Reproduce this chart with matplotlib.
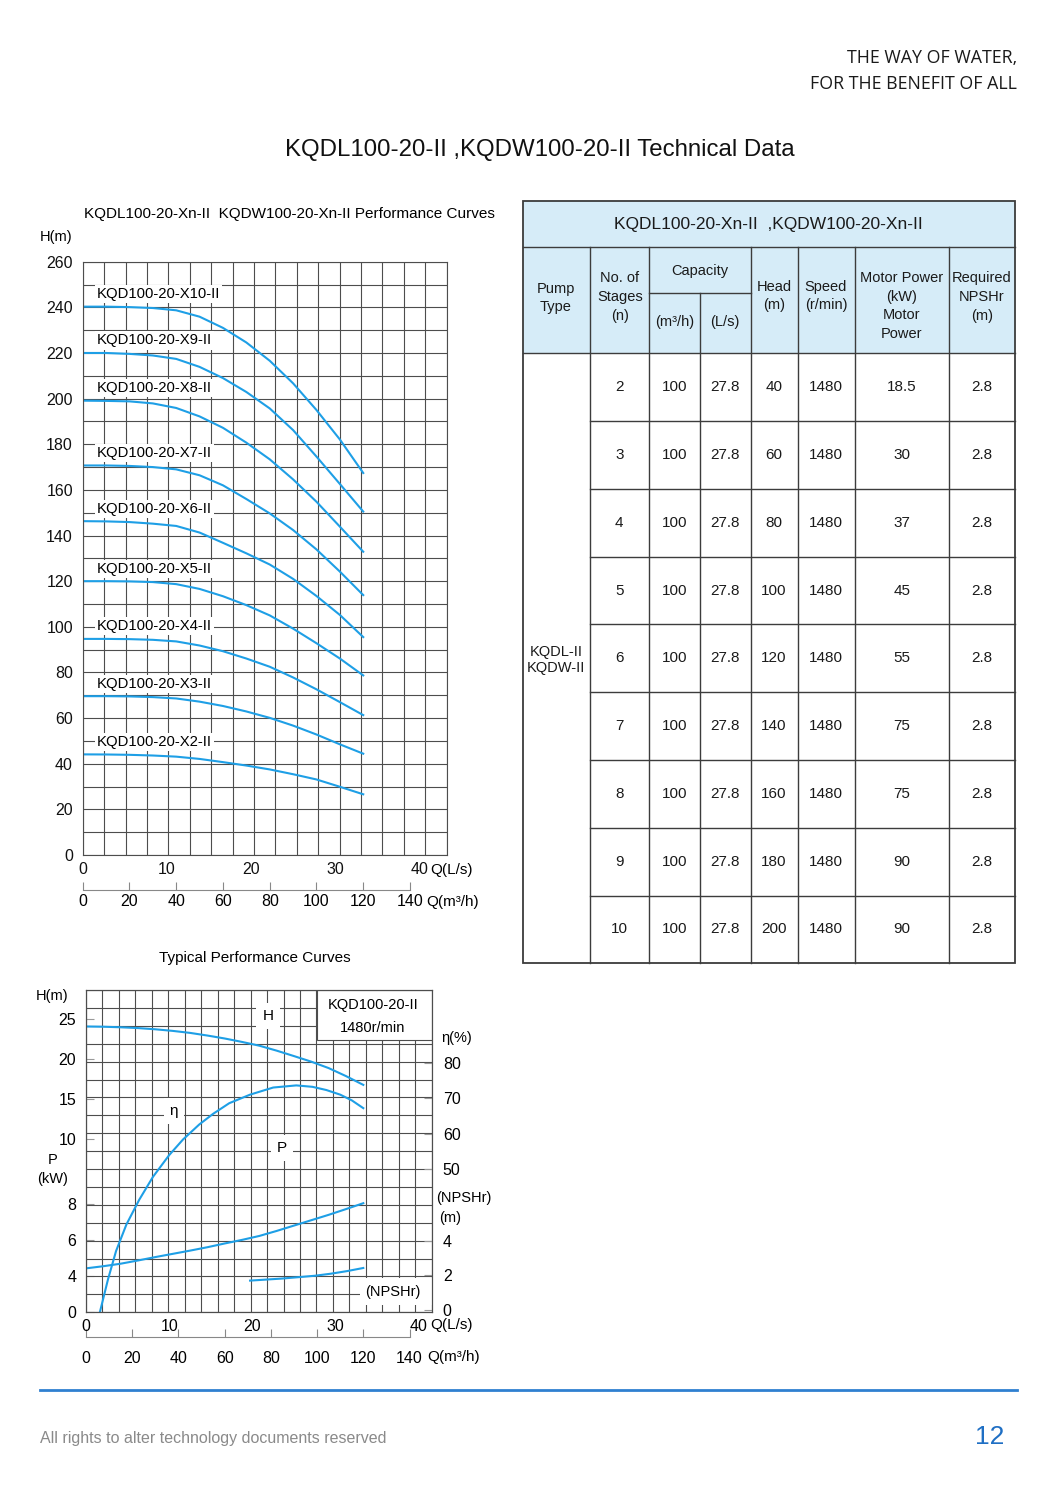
import numpy as np
import matplotlib
matplotlib.use('Agg')
import matplotlib.pyplot as plt
from matplotlib.patches import Rectangle

plt.rcParams['font.family'] = ['Liberation Sans', 'DejaVu Sans']
NARROW = ['Liberation Sans Narrow', 'Liberation Sans', 'DejaVu Sans']

# - - - - chart data (Q in m3/h) - - - - #
q_stage = [0, 10, 20, 30, 40, 50, 60, 70, 80, 90, 100, 110, 120]
h_x10 = [240.3, 240.3, 240.1, 239.7, 238.7, 235.9, 231.0, 224.6, 216.6, 206.7, 195.0, 182.1, 167.4]
h_x9 = [220.0, 220.0, 219.6, 218.9, 217.4, 213.9, 209.0, 202.9, 195.7, 186.2, 174.6, 162.6, 150.5]
h_x8 = [199.1, 199.0, 198.8, 197.9, 195.9, 192.2, 187.2, 180.7, 173.4, 164.6, 154.8, 143.9, 132.9]
h_x7 = [170.7, 170.7, 170.5, 170.0, 169.0, 166.4, 162.0, 156.0, 149.7, 142.4, 133.9, 124.2, 113.9]
h_x6 = [146.3, 146.2, 145.9, 145.2, 144.2, 141.3, 136.8, 132.2, 127.3, 121.0, 113.5, 105.2, 95.5]
h_x5 = [120.0, 120.0, 119.9, 119.6, 118.7, 116.6, 113.4, 109.5, 105.0, 99.2, 92.8, 86.1, 78.7]
h_x4 = [94.7, 94.7, 94.6, 94.3, 93.6, 91.8, 89.3, 86.1, 82.5, 77.8, 72.6, 67.0, 61.3]
h_x3 = [69.6, 69.6, 69.5, 69.2, 68.6, 67.2, 65.3, 62.9, 60.1, 56.7, 52.8, 48.5, 44.4]
h_x2 = [44.1, 44.05, 43.9, 43.6, 43.1, 42.1, 40.7, 39.2, 37.5, 35.4, 33.1, 29.9, 26.6]
stage_names = ['KQD100-20-X10-II', 'KQD100-20-X9-II', 'KQD100-20-X8-II',
               'KQD100-20-X7-II', 'KQD100-20-X6-II', 'KQD100-20-X5-II',
               'KQD100-20-X4-II', 'KQD100-20-X3-II', 'KQD100-20-X2-II']
stage_heads = [h_x10, h_x9, h_x8, h_x7, h_x6, h_x5, h_x4, h_x3, h_x2]

ls_ticks = [0, 10, 20, 30, 40]
m3h_ticks = [0, 20, 40, 60, 80, 100, 120, 140]
h_ticks = [0, 20, 40, 60, 80, 100, 120, 140, 160, 180, 200, 220, 240, 260]

# typical single-stage curves
q_typ = [0, 7.5, 15, 22.5, 30, 37.5, 45, 52.5, 60, 67.5, 75, 82.5, 90, 97.5, 105, 112.5, 120]
head_typ = [24.1, 24.07, 24.0, 23.9, 23.75, 23.55, 23.3, 22.97, 22.6, 22.17, 21.7,
            21.08, 20.4, 19.7, 18.9, 17.9, 16.8]
power_typ = [4.41, 4.53, 4.67, 4.85, 5.04, 5.22, 5.4, 5.59, 5.8, 6.0, 6.22, 6.5,
             6.8, 7.1, 7.4, 7.72, 8.05]
q_eff = [6, 9.5, 13, 17.5, 23, 29, 36, 42, 49, 55, 62, 71, 81, 91, 98, 104, 110, 115, 120]
eff_typ = [9.8, 19.0, 27.0, 34.5, 41.4, 47.9, 54.0, 58.4, 62.6, 65.6, 68.6, 71.0,
           73.0, 73.6, 73.2, 72.3, 71.0, 69.4, 67.2]
q_npsh = [71, 78, 85, 92, 99, 106, 113, 120]
npsh_typ = [1.7, 1.76, 1.82, 1.9, 1.98, 2.1, 2.25, 2.43]

h_typ_ticks = [25, 20, 15, 10]
p_ticks = [8, 6, 4]
eff_ticks = [80, 70, 60, 50]
npsh_ticks = [4, 2, 0]

# - - - - table data - - - - #
stages = [2, 3, 4, 5, 6, 7, 8, 9, 10]
cap_m3h = [100, 100, 100, 100, 100, 100, 100, 100, 100]
cap_ls = [27.8, 27.8, 27.8, 27.8, 27.8, 27.8, 27.8, 27.8, 27.8]
heads = [40, 60, 80, 100, 120, 140, 160, 180, 200]
speeds = [1480, 1480, 1480, 1480, 1480, 1480, 1480, 1480, 1480]
motor_kw = ['18.5', '30', '37', '45', '55', '75', '75', '90', '90']
npshr = [2.8, 2.8, 2.8, 2.8, 2.8, 2.8, 2.8, 2.8, 2.8]

W, H = 1053, 1493
BLUE = '#1e9fe6'
GRID = '#4d4d4d'
TICK_FS = 11.5
fig = plt.figure(figsize=(W / 100, H / 100), dpi=100)


def fx(px):
    return px / W


def fy(py):
    return 1 - py / H


def page_text(x, y, s, **kw):
    kw.setdefault('va', 'center')
    return fig.text(fx(x), fy(y), s, **kw)


# - - - - page header - - - - #
page_text(1017, 58, 'THE WAY OF WATER,', ha='right', fontsize=12.8,
          family=['Open Sans', 'DejaVu Sans'], color='#1a1a1a')
page_text(1017, 84, 'FOR THE BENEFIT OF ALL', ha='right', fontsize=12.8,
          family=['Open Sans', 'DejaVu Sans'], color='#1a1a1a')
page_text(540, 150, 'KQDL100-20-II ,KQDW100-20-II Technical Data', ha='center',
          fontsize=17.3, color='#111')

# - - - - multi-stage performance curves - - - - #
x_max = 155.7
ax = fig.add_axes([fx(82.7), fy(855), 364 / W, 593.3 / H])
ax.set_xlim(0, x_max)
ax.set_ylim(0, 260)
ax.xaxis.remove_overlapping_locs = False
ax.yaxis.remove_overlapping_locs = False
ax.set_xticks(np.linspace(0, x_max, 18), minor=True)
ax.set_yticks(np.arange(0, 261, 10), minor=True)
ax.grid(which='minor', color=GRID, lw=0.8)
ax.set_yticks(h_ticks)
ax.set_xticks([v * 3.6 for v in ls_ticks])
ax.set_xticklabels([str(v) for v in ls_ticks])
ax.tick_params(which='both', length=0, labelsize=TICK_FS, colors='#111')
ax.tick_params(axis='y', pad=7)
ax.tick_params(axis='x', pad=5)
for s in ax.spines.values():
    s.set_color(GRID)
    s.set_linewidth(0.8)

for name, hs in zip(stage_names, stage_heads):
    ax.plot(q_stage, hs, color=BLUE, lw=1.5, zorder=2)
    ax.text(6, hs[0] + 5.5, name, fontsize=10.7, va='center', ha='left', zorder=3,
            bbox=dict(boxstyle='square,pad=0.14', fc='white', ec='none'))

sec = ax.secondary_xaxis(-0.059)
sec.set_xticks(m3h_ticks)
sec.spines['bottom'].set_bounds(0, 140)
sec.spines['bottom'].set_color('#888')
sec.tick_params(direction='in', length=6, color='#888', labelsize=TICK_FS, pad=3)

page_text(84, 214, 'KQDL100-20-Xn-II  KQDW100-20-Xn-II Performance Curves',
          fontsize=11, ha='left')
page_text(40, 237, 'H(m)', fontsize=10.5, ha='left')
page_text(430, 870, 'Q(L/s)', fontsize=11, ha='left')
page_text(426, 902, 'Q(m³/h)', fontsize=11, ha='left')

# - - - - typical performance curves - - - - #
def eff_to_y(e):
    return 19.58 + (e - 80) * 0.4444


def pow_to_y(p):
    return -7.05 + (p - 4) * 2.2375


def npsh_to_y(n):
    return -11.34 + n * 2.1625


x2_max = 149.6
y_lo, y_hi = -11.625, 28.66
bx = fig.add_axes([fx(86), fy(1312.3), 345.7 / W, 322.3 / H])
bx.set_xlim(0, x2_max)
bx.set_ylim(y_lo, y_hi)
bx.xaxis.remove_overlapping_locs = False
bx.yaxis.remove_overlapping_locs = False
bx.set_xticks(np.linspace(0, x2_max, 22), minor=True)
bx.set_yticks(np.linspace(y_lo, y_hi, 19), minor=True)
bx.grid(which='minor', color=GRID, lw=0.8)
bx.set_xticks([v * 3.6 for v in ls_ticks])
bx.set_xticklabels([str(v) for v in ls_ticks])
left_pos = h_typ_ticks + [pow_to_y(p) for p in p_ticks] + [y_lo]
bx.set_yticks(left_pos)
bx.set_yticklabels([str(v) for v in h_typ_ticks + p_ticks] + ['0'])
bx.tick_params(which='minor', length=0)
bx.tick_params(axis='x', which='major', length=0, labelsize=TICK_FS, pad=5)
bx.tick_params(axis='y', which='major', direction='in', length=6, color='#999',
               labelsize=TICK_FS, pad=7)
for s in bx.spines.values():
    s.set_color(GRID)
    s.set_linewidth(0.8)

bx.plot(q_typ, head_typ, color=BLUE, lw=1.5)
bx.plot(q_eff, [eff_to_y(e) for e in eff_typ], color=BLUE, lw=1.5)
bx.plot(q_typ, [pow_to_y(p) for p in power_typ], color=BLUE, lw=1.5)
bx.plot(q_npsh, [npsh_to_y(n) for n in npsh_typ], color=BLUE, lw=1.5)

tw = bx.twinx()
tw.set_ylim(y_lo, y_hi)
tw.set_yticks([eff_to_y(e) for e in eff_ticks] + [npsh_to_y(n) for n in npsh_ticks])
tw.set_yticklabels([str(v) for v in eff_ticks + npsh_ticks])
tw.tick_params(direction='in', length=6, color='#999', labelsize=TICK_FS, pad=8)
for s in tw.spines.values():
    s.set_color(GRID)
    s.set_linewidth(0.8)

bx.add_patch(Rectangle((0.667, 0.845), 0.333, 0.155, transform=bx.transAxes,
                       fc='white', ec=GRID, lw=0.8, zorder=2.5))
bx.add_patch(Rectangle((118.6, -10.7), x2_max - 118.6, 3.4,
                       fc='white', ec='none', zorder=2.5))
page_text(373, 1005, 'KQD100-20-II', fontsize=10.5, ha='center')
page_text(373, 1028, '1480r/min', fontsize=10.5, ha='center')
box = dict(boxstyle='square,pad=0.4', fc='white', ec='none')
page_text(268, 1016, 'H', fontsize=11, ha='center', bbox=box)
page_text(174, 1111, 'η', fontsize=11, ha='center', bbox=box)
page_text(282, 1148, 'P', fontsize=11, ha='center', bbox=box)
page_text(393, 1292, '(NPSHr)', fontsize=10.5, ha='center')

sec2 = bx.secondary_xaxis(-0.0757)
sec2.set_xticks(m3h_ticks)
sec2.spines['bottom'].set_bounds(0, 140)
sec2.spines['bottom'].set_color('#888')
sec2.tick_params(direction='in', length=6, color='#888', labelsize=TICK_FS, pad=10)

page_text(255, 958, 'Typical Performance Curves', fontsize=11, ha='center')
page_text(52, 996, 'H(m)', fontsize=10.5, ha='center')
page_text(53, 1160, 'P', fontsize=10.5, ha='center')
page_text(53, 1179, '(kW)', fontsize=10.5, ha='center')
page_text(457, 1038, 'η(%)', fontsize=10.5, ha='center')
page_text(436, 1198, '(NPSHr)', fontsize=10.5, ha='left')
page_text(439, 1218, '(m)', fontsize=10.5, ha='left')
page_text(430, 1325, 'Q(L/s)', fontsize=11, ha='left')
page_text(427, 1357, 'Q(m³/h)', fontsize=11, ha='left')

# - - - - data table - - - - #
tab = fig.add_axes([0, 0, 1, 1])
tab.set_xlim(0, W)
tab.set_ylim(H, 0)
tab.axis('off')

cx = [522.7, 589.7, 649, 700, 750.5, 797.5, 855, 949.3, 1015]
t_top, t_title, t_sub, t_head, t_bot = 201, 246.7, 293.3, 353.3, 963.3
row_y = np.linspace(t_head, t_bot, len(stages) + 1)
LC = '#3c3c3c'

tab.add_patch(Rectangle((cx[0], t_top), cx[-1] - cx[0], t_head - t_top,
                        fc='#d6ecf8', ec='none'))
tab.add_patch(Rectangle((cx[0], t_top), cx[-1] - cx[0], t_bot - t_top,
                        fc='none', ec=LC, lw=1.3))
tab.plot([cx[0], cx[-1]], [t_title, t_title], color=LC, lw=1)
tab.plot([cx[2], cx[4]], [t_sub, t_sub], color=LC, lw=1)
for y in row_y[:-1]:
    x0 = cx[0] if y == t_head else cx[1]
    tab.plot([x0, cx[-1]], [y, y], color=LC, lw=1)
for i, x in enumerate(cx[1:-1], start=1):
    y0 = t_sub if i == 3 else t_title
    tab.plot([x, x], [y0, t_bot], color=LC, lw=1)


def cell(x, y, s, fs=10.5, ls=1.45):
    tab.text(x, y, s, ha='center', va='center', color='#1a1a1a',
             family=NARROW, fontsize=fs, linespacing=ls)


tab.text((cx[0] + cx[-1]) / 2, 224, 'KQDL100-20-Xn-II  ,KQDW100-20-Xn-II',
         ha='center', va='center', fontsize=12.5, color='#1a1a1a')
cell(556, 298, 'Pump\nType')
cell(620, 297, 'No. of\nStages\n(n)')
cell(700, 271, 'Capacity')
cell(675, 322, '(m³/h)')
cell(725, 322, '(L/s)')
cell(774, 296, 'Head\n(m)')
cell(826, 296, 'Speed\n(r/min)')
cell(902, 306, 'Motor Power\n(kW)\nMotor\nPower')
cell(982, 297, 'Required\nNPSHr\n(m)')
cell(556, 660, 'KQDL-II\nKQDW-II', ls=1.2)

centres = [(a + b) / 2 for a, b in zip(cx[1:-1], cx[2:])]
for k in range(len(stages)):
    y = (row_y[k] + row_y[k + 1]) / 2
    vals = [stages[k], cap_m3h[k], cap_ls[k], heads[k], speeds[k],
            motor_kw[k], npshr[k]]
    for xc, v in zip(centres, vals):
        cell(xc, y, str(v), fs=11)

# - - - - footer - - - - #
tab.plot([40, 1017], [1390, 1390], color='#2f80d0', lw=2)
page_text(40, 1438, 'All rights to alter technology documents reserved',
          fontsize=11.5, color='#8a8a8a', ha='left')
page_text(990, 1437, '12', fontsize=19, color='#1f6fc4', ha='center')

fig.savefig('out.png', dpi=100)
